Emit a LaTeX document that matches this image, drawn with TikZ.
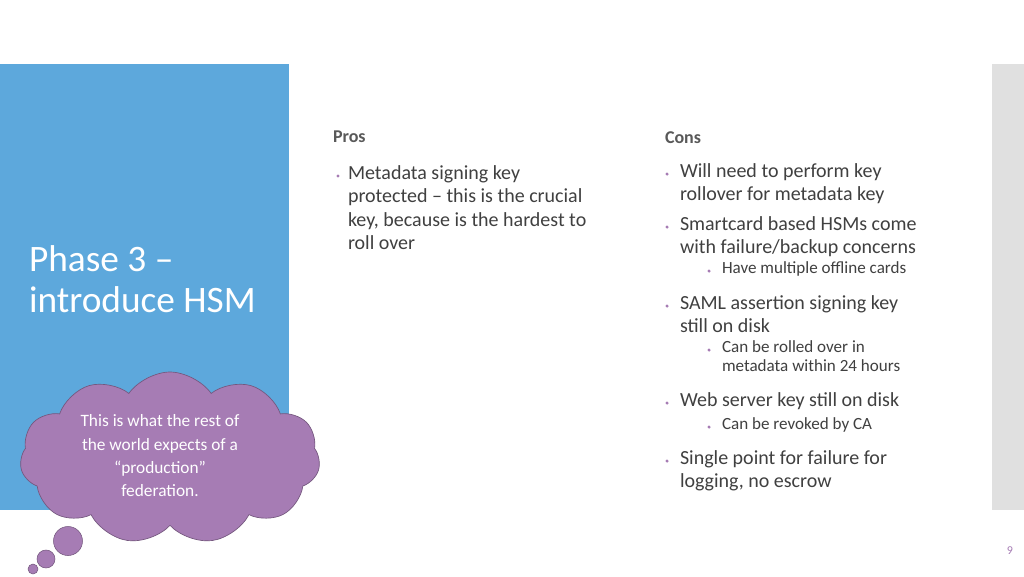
\documentclass[tikz,border=0pt]{standalone}
\usepackage{fontspec}
\setmainfont{Carlito}
\usetikzlibrary{shapes.symbols,positioning}
\definecolor{sideblue}{HTML}{5DA8DC}
\definecolor{cloudpurple}{HTML}{A67CB4}
\definecolor{headgray}{HTML}{595959}
\definecolor{bodygray}{HTML}{404040}
\definecolor{dotpurple}{HTML}{A67CB4}
\begin{document}
\begin{tikzpicture}[x=0.75pt,y=-0.75pt]

\tikzset{inner sep=0pt,outer sep=0pt,
head/.style={anchor=west,font=\fontsize{13.5}{16}\selectfont\bfseries,text=headgray},
item/.style={anchor=north west,align=left,font=\fontsize{15}{17.3}\selectfont,text=bodygray},
subitem/.style={anchor=north west,align=left,font=\fontsize{12.8}{14}\selectfont,text=bodygray},
dot/.style={circle,fill=dotpurple,minimum size=2.6pt}}

% Page and side panels
\fill[white] (0,0) rectangle (1024,576);
\useasboundingbox (0,0) rectangle (1024,576);
\fill[sideblue] (0,64) rectangle (289,510);
\fill[black!12] (992,64) rectangle (1024,510);

% Title
\node (title) [anchor=north west,align=left,text=white,
  font=\fontsize{28}{30.5}\selectfont] at (29,246) {Phase 3 --\\introduce HSM};

% Pros column
\node[head] (pros) at (333,137) {Pros};
\node[dot] (p1d) at (338,176) {};
\node[item] (p1) at (348,166) {Metadata signing key\\protected -- this is the crucial\\key, because is the hardest to\\roll over};

% Cons column
\node[head] (cons) at (665,138) {Cons};
\node[dot] (c1d) at (667,174) {};
\node[item] (c1) at (680,164) {Will need to perform key\\rollover for metadata key};
\node[dot] (c2d) at (667,227) {};
\node[item] (c2) at (680,217) {Smartcard based HSMs come\\with failure/backup concerns};
\node[dot] (c2ad) at (709,271) {};
\node[subitem] (c2a) at (722,262) {Have multiple offline cards};
\node[dot] (c3d) at (667,306) {};
\node[item] (c3) at (680,296) {SAML assertion signing key\\still on disk};
\node[dot] (c3ad) at (709,350) {};
\node[subitem] (c3a) at (722,341) {Can be rolled over in\\metadata within 24 hours};
\node[dot] (c4d) at (667,403) {};
\node[item] (c4) at (680,393) {Web server key still on disk};
\node[dot] (c4ad) at (709,427) {};
\node[subitem] (c4a) at (722,418) {Can be revoked by CA};
\node[dot] (c5d) at (667,461) {};
\node[item] (c5) at (680,451) {Single point for failure for\\logging, no escrow};

% Thought cloud
\node (cloud) [cloud,cloud puffs=11,cloud puff arc=110,aspect=1.7,
  fill=cloudpurple,draw=cloudpurple!70!black,line width=0.5pt,
  minimum width=300*0.75pt,minimum height=172*0.75pt] at (170,458) {};
\node (cloudtext) [align=center,text=white,font=\fontsize{13}{17.5}\selectfont]
  at (160,456) {This is what the rest of\\the world expects of a\\``production''\\federation.};
\node (bub1) [circle,fill=cloudpurple,draw=cloudpurple!70!black,minimum size=29*0.75pt] at (68,541) {};
\node (bub2) [circle,fill=cloudpurple,draw=cloudpurple!70!black,minimum size=18*0.75pt] at (46,559) {};
\node (bub3) [circle,fill=cloudpurple,draw=cloudpurple!70!black,minimum size=10*0.75pt] at (33,569) {};

% Page number
\node (pagenum) [text=dotpurple,font=\fontsize{9}{10}\selectfont] at (1010,551) {9};

\end{tikzpicture}
\end{document}
